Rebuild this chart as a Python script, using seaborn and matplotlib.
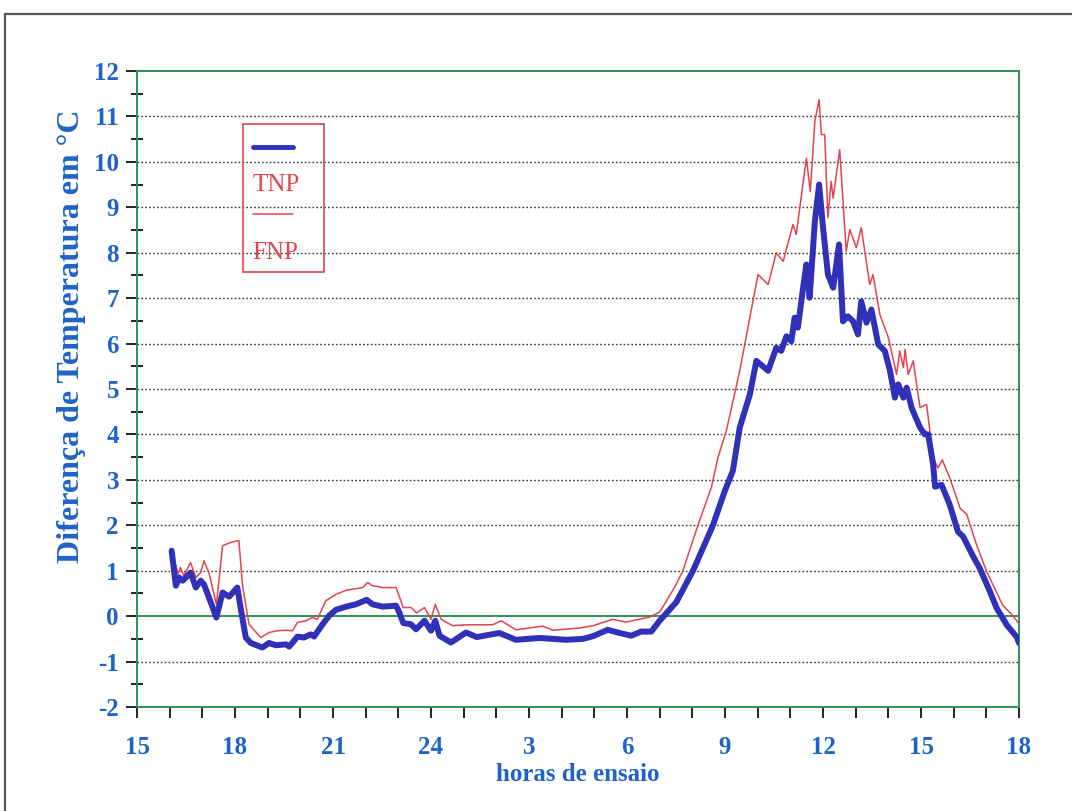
import numpy as np
import pandas as pd
import matplotlib
matplotlib.use("Agg")
import matplotlib.pyplot as plt
from matplotlib.lines import Line2D
from matplotlib.patches import Rectangle
from matplotlib.ticker import MultipleLocator, FixedLocator
import seaborn as sns

# ---- data (hours since start day, 15h .. 42h = 18h next day) ----
tnp_hours = [16.06, 16.19, 16.29, 16.40, 16.64, 16.80, 16.95, 17.05, 17.26, 17.43,
             17.62, 17.82, 18.07, 18.18, 18.33, 18.48, 18.84, 19.04, 19.25, 19.56,
             19.66, 19.91, 20.11, 20.32, 20.42, 20.68, 20.88, 21.09, 21.40, 21.70,
             22.03, 22.21, 22.52, 22.93, 23.03, 23.15, 23.39, 23.54, 23.80, 24.00,
             24.13, 24.26, 24.61, 25.07, 25.40, 26.09, 26.60, 27.32, 28.14, 28.65,
             28.96, 29.41, 29.77, 30.13, 30.43, 30.74, 31.00, 31.51, 32.02, 32.63,
             32.99, 33.24, 33.45, 33.76, 33.96, 34.32, 34.57, 34.72, 34.88, 35.03,
             35.13, 35.23, 35.39, 35.49, 35.59, 35.75, 35.88, 36.00, 36.15, 36.31,
             36.49, 36.61, 36.76, 36.92, 37.07, 37.17, 37.33, 37.48, 37.69, 37.89,
             38.05, 38.20, 38.30, 38.46, 38.56, 38.71, 38.97, 39.12, 39.22, 39.37,
             39.43, 39.63, 39.88, 40.13, 40.29, 40.60, 40.80, 41.11, 41.32, 41.63,
             41.93, 42.00]
tnp_values = [1.44, 0.67, 0.85, 0.78, 0.96, 0.63, 0.78, 0.70, 0.30, -0.03,
              0.52, 0.43, 0.63, 0.15, -0.47, -0.59, -0.69, -0.59, -0.64, -0.62,
              -0.67, -0.45, -0.47, -0.40, -0.45, -0.18, 0.01, 0.14, 0.21, 0.26,
              0.36, 0.26, 0.21, 0.23, 0.08, -0.15, -0.18, -0.29, -0.10, -0.32,
              -0.10, -0.43, -0.58, -0.36, -0.46, -0.37, -0.52, -0.48, -0.52, -0.50,
              -0.44, -0.30, -0.37, -0.43, -0.34, -0.34, -0.10, 0.31, 1.00, 2.00,
              2.75, 3.20, 4.15, 4.88, 5.62, 5.40, 5.91, 5.84, 6.16, 6.05,
              6.57, 6.35, 7.23, 7.74, 7.01, 8.69, 9.50, 8.55, 7.52, 7.23,
              8.18, 6.49, 6.60, 6.49, 6.20, 6.93, 6.46, 6.75, 5.98, 5.84,
              5.40, 4.81, 5.10, 4.81, 5.03, 4.59, 4.15, 4.00, 4.00, 3.34,
              2.85, 2.89, 2.45, 1.86, 1.75, 1.31, 1.05, 0.54, 0.17, -0.20,
              -0.46, -0.59]

fnp_hours = [16.06, 16.26, 16.33, 16.43, 16.64, 16.80, 16.95, 17.05, 17.20, 17.43,
             17.62, 17.82, 18.07, 18.12, 18.23, 18.43, 18.79, 19.04, 19.30, 19.56,
             19.76, 19.91, 20.17, 20.37, 20.52, 20.78, 21.09, 21.40, 21.91, 22.06,
             22.21, 22.52, 22.93, 23.15, 23.39, 23.56, 23.80, 24.00, 24.13, 24.31,
             24.66, 25.07, 25.89, 26.15, 26.60, 27.42, 27.73, 28.55, 28.96, 29.56,
             29.97, 30.69, 31.00, 31.46, 31.71, 32.17, 32.58, 32.78, 33.04, 33.45,
             34.01, 34.32, 34.57, 34.78, 35.08, 35.18, 35.49, 35.61, 35.75, 35.88,
             35.95, 36.05, 36.15, 36.25, 36.31, 36.51, 36.71, 36.82, 37.02, 37.17,
             37.43, 37.53, 37.74, 38.00, 38.25, 38.35, 38.46, 38.51, 38.61, 38.76,
             38.97, 39.17, 39.37, 39.52, 39.65, 39.88, 40.20, 40.40, 40.70, 41.01,
             41.50, 41.80, 41.98]
fnp_values = [1.44, 0.93, 1.07, 0.89, 1.18, 0.85, 0.96, 1.22, 0.96, 0.26,
              1.55, 1.61, 1.66, 1.66, 0.67, -0.18, -0.47, -0.36, -0.32, -0.31,
              -0.32, -0.14, -0.10, -0.03, -0.07, 0.34, 0.48, 0.57, 0.63, 0.74,
              0.67, 0.63, 0.63, 0.19, 0.19, 0.07, 0.19, -0.07, 0.26, -0.07,
              -0.21, -0.19, -0.19, -0.10, -0.30, -0.22, -0.31, -0.26, -0.21, -0.07,
              -0.13, -0.02, 0.09, 0.64, 1.00, 2.00, 2.83, 3.48, 4.08, 5.40,
              7.52, 7.30, 8.00, 7.81, 8.62, 8.40, 10.08, 9.35, 10.89, 11.37,
              10.60, 10.60, 8.77, 9.57, 9.20, 10.27, 8.03, 8.51, 8.11, 8.55,
              7.30, 7.52, 6.64, 6.13, 5.32, 5.84, 5.47, 5.87, 5.32, 5.62,
              4.59, 4.66, 3.49, 3.26, 3.44, 3.04, 2.37, 2.24, 1.57, 0.98,
              0.24, 0.02, -0.15]

xtick_positions = [15, 18, 21, 24, 27, 30, 33, 36, 39, 42]
xtick_labels = ["15", "18", "21", "24", "3", "6", "9", "12", "15", "18"]
yticks = list(range(-2, 13))
series_names = ["TNP", "FNP"]

# ---- style ----
sns.set_theme(style="white")
plt.rcParams["font.family"] = ["Liberation Serif", "DejaVu Serif"]

BLUE_TXT = "#1f63c6"
BLUE_LINE = "#3030b8"
RED = "#e2444f"
GREEN = "#2f8f58"

fig = plt.figure(figsize=(10.72, 8.11), dpi=100)
ax = fig.add_axes([0.1278, 0.1282, 0.8228, 0.7843])

df_t = pd.DataFrame({"h": tnp_hours, "v": tnp_values})
df_f = pd.DataFrame({"h": fnp_hours, "v": fnp_values})

sns.lineplot(data=df_f, x="h", y="v", ax=ax, color=RED, linewidth=1.1,
             estimator=None, sort=False, zorder=3)
sns.lineplot(data=df_t, x="h", y="v", ax=ax, color=BLUE_LINE, linewidth=4.3,
             estimator=None, sort=False, zorder=4,
             solid_joinstyle="round", solid_capstyle="round")

ax.set_xlim(15, 42)
ax.set_ylim(-2, 12)

# grid: dotted at integers, green solid at zero
for y in yticks:
    if y in (-2, 12):
        continue
    if y == 0:
        ax.axhline(0, color=GREEN, linewidth=1.4, zorder=2)
    else:
        ax.axhline(y, color="#333333", linewidth=1.0, linestyle=(0, (1.2, 1.6)), zorder=1)

for sp in ax.spines.values():
    sp.set_color(GREEN)
    sp.set_linewidth(1.4)

ax.xaxis.set_major_locator(FixedLocator(xtick_positions))
ax.set_xticklabels(xtick_labels)
ax.xaxis.set_minor_locator(MultipleLocator(1))
ax.yaxis.set_major_locator(FixedLocator(yticks))
ax.set_yticklabels([str(v) for v in yticks])
ax.yaxis.set_minor_locator(MultipleLocator(0.5))

ax.tick_params(axis="x", which="both", direction="out", length=8, width=1.4,
               color="#222222", bottom=True, pad=13)
ax.tick_params(axis="y", which="major", direction="out", length=8, width=1.4,
               color="#222222", left=True, pad=5)
ax.tick_params(axis="y", which="minor", direction="inout", length=8, width=1.4,
               color="#222222", left=True)
for lab in ax.get_xticklabels() + ax.get_yticklabels():
    lab.set_color(BLUE_TXT)
    lab.set_fontsize(18)
    lab.set_fontweight("bold")

ax.set_xlabel("horas de ensaio", color=BLUE_TXT, fontsize=18, fontweight="bold", labelpad=3)
ax.set_ylabel("Diferença de Temperatura em °C", color=BLUE_TXT, fontsize=23,
              fontweight="bold")
ax.yaxis.set_label_coords(-0.074, 0.583)
ax.yaxis.label.set_va("center")

# custom legend box (line sample above each label)
ax.add_patch(Rectangle((0.120, 0.684), 0.092, 0.233, transform=ax.transAxes,
                       fill=False, edgecolor=RED, linewidth=1.2, zorder=5))
ax.add_line(Line2D([0.131, 0.177], [0.880, 0.880], transform=ax.transAxes,
                   color=BLUE_LINE, linewidth=3.5, zorder=6))
ax.text(0.131, 0.821, series_names[0], transform=ax.transAxes, color=RED,
        fontsize=18, va="center", ha="left", zorder=6)
ax.add_line(Line2D([0.131, 0.177], [0.775, 0.775], transform=ax.transAxes,
                   color=RED, linewidth=1.1, zorder=6))
ax.text(0.131, 0.714, series_names[1], transform=ax.transAxes, color=RED,
        fontsize=18, va="center", ha="left", zorder=6)

# page frame (scan border)
fig.add_artist(Line2D([5 / 1072, 1.0], [1 - 14 / 811, 1 - 14 / 811],
                      transform=fig.transFigure, color="#555555", linewidth=1.6))
fig.add_artist(Line2D([5 / 1072, 5 / 1072], [0.0, 1 - 14 / 811],
                      transform=fig.transFigure, color="#555555", linewidth=1.6))

fig.savefig("out.png", dpi=100)
